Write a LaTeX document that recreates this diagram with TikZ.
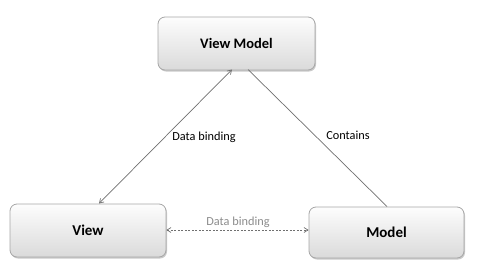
\documentclass[tikz,border=0pt]{standalone}
\usepackage{fontspec}
\setmainfont{Carlito}
\usetikzlibrary{arrows.meta,shadows}
\definecolor{boxline}{HTML}{A6A6A6}
\definecolor{boxtop}{HTML}{FDFDFD}
\definecolor{boxbot}{HTML}{DADADA}
\definecolor{conn}{HTML}{707070}
\tikzset{
  box/.style={draw=boxline, line width=0.8pt, rounded corners=7pt, top color=boxtop, bottom color=boxbot,
    drop shadow={shadow xshift=1pt, shadow yshift=-1.5pt, opacity=0.35, fill=black!60},
    minimum height=53pt, inner sep=0pt, font=\fontsize{15}{17}\selectfont\bfseries},
  conn/.style={draw=conn, line width=0.7pt},
  tip/.style={{Straight Barb[length=4pt,width=5pt]}-{Straight Barb[length=4pt,width=5pt]}},
  lbl/.style={font=\fontsize{12.3}{14}\selectfont, inner sep=0pt}
}
\begin{document}
\begin{tikzpicture}[x=1pt,y=-1pt]
\useasboundingbox (0,0) rectangle (482,271);
\node[box, minimum width=157pt, minimum height=53pt, font=\fontsize{14.5}{17}\selectfont\bfseries] (vm) at (236.5,43.5) {View Model};
\node[box, minimum width=156pt] (v) at (88,230.5) {View};
\node[box, minimum width=155pt, minimum height=51pt] (m) at (386.5,232.5) {Model};
\coordinate (vmL) at (232,69.5);
\coordinate (vL) at (99,203.5);
\coordinate (vmR) at (248,69.5);
\coordinate (mT) at (387,206.5);
\draw[conn, tip] (vmL) -- (vL);
\draw[conn] (vmR) -- (mT);
\draw[conn, dashed, dash pattern=on 2pt off 1.5pt, tip] (v.east |- 0,230) -- (m.west |- 0,230);
\node[lbl] (l1) at (204,137) {Data binding};
\node[lbl] (l2) at (348,135) {Contains};
\node[lbl, text=black!45] (l3) at (238,222) {Data binding};
\end{tikzpicture}
\end{document}
